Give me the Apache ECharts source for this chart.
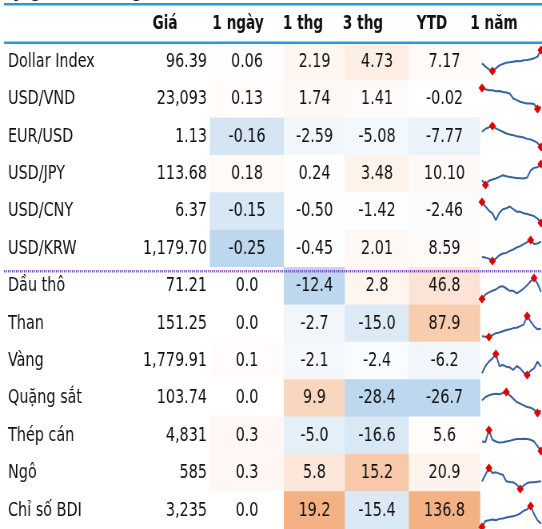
<!DOCTYPE html>
<html>
<head>
<meta charset="utf-8">
<script src="https://cdn.jsdelivr.net/npm/echarts@6/dist/echarts.min.js"></script>
<style>
html, body { margin: 0; padding: 0; background: #fff; overflow: hidden; }
/* the table font is a narrow one: draw wider and squeeze horizontally */
#main { width: 678px; height: 529px; transform: scaleX(0.7994); transform-origin: 0 0; }
</style>
</head>
<body>
<div id="main"></div>
<script>
var names = ['Dollar Index', 'USD/VND', 'EUR/USD', 'USD/JPY', 'USD/CNY', 'USD/KRW',
    'Dầu thô', 'Than', 'Vàng', 'Quặng sắt', 'Thép cán', 'Ngô', 'Chỉ số BDI'];
var prices = [96.39, 23093, 1.13, 113.68, 6.37, 1179.70, 71.21, 151.25, 1779.91, 103.74, 4831, 585, 3235];
var priceDecimals = [2, 0, 2, 2, 2, 2, 2, 2, 2, 2, 0, 0, 0];
var oneDay = [0.06, 0.13, -0.16, 0.18, -0.15, -0.25, 0.0, 0.0, 0.1, 0.0, 0.3, 0.3, 0.0];
var oneMonth = [2.19, 1.74, -2.59, 0.24, -0.50, -0.45, -12.4, -2.7, -2.1, 9.9, -5.0, 5.8, 19.2];
var threeMonth = [4.73, 1.41, -5.08, 3.48, -1.42, 2.01, 2.8, -15.0, -2.4, -28.4, -16.6, 15.2, -15.4];
var ytd = [7.17, -0.02, -7.77, 10.10, -2.46, 8.59, 46.8, 87.9, -6.2, -26.7, 5.6, 20.9, 136.8];
var headers = ['Giá', '1 ngày', '1 thg', '3 thg', 'YTD', '1 năm'];

// 1 năm sparklines (relative levels)
var sparkDollar = [30, 20, 12, 7, 15, 24, 28, 32, 33, 35, 37, 36, 39, 40, 42, 45, 50, 70];
var sparkVnd = [77, 73, 70, 70, 67, 68, 65, 63, 60, 45, 40, 35, 32, 30, 30, 28, 13, 20];
var sparkEur = [65, 74, 78, 82, 75, 70, 65, 60, 57, 55, 52, 50, 48, 44, 42, 38, 32, 20];
var sparkJpy = [30, 15, 28, 32, 35, 40, 45, 42, 40, 38, 37, 36, 35, 38, 60, 68, 70, 80];
var sparkCny = [73, 60, 48, 40, 20, 42, 52, 55, 60, 52, 45, 45, 40, 38, 35, 32, 25, 12];
var sparkKrw = [30, 28, 25, 18, 25, 35, 40, 42, 48, 52, 58, 62, 68, 74, 80, 68, 70, 75];
var sparkOil = [13, 27, 33, 38, 42, 50, 52, 45, 38, 38, 30, 37, 45, 55, 67, 77, 60, 35];
var sparkCoal = [13, 12, 11, 17, 23, 25, 29, 33, 35, 39, 40, 45, 50, 77, 60, 45, 35, 37];
var sparkGold = [20, 42, 55, 65, 78, 42, 45, 40, 38, 30, 42, 35, 22, 15, 28, 35, 55, 40];
var sparkOre = [50, 60, 65, 68, 70, 68, 72, 75, 65, 55, 45, 40, 35, 30, 28, 22, 12, 20];
var sparkSteel = [45, 44, 78, 50, 45, 42, 43, 45, 47, 50, 52, 52, 53, 52, 50, 45, 32, 18];
var sparkCorn = [35, 55, 75, 60, 62, 58, 55, 35, 33, 32, 25, 12, 22, 30, 32, 32, 34, 35];
var sparkBdi = [20, 38, 40, 42, 40, 44, 45, 48, 50, 52, 55, 60, 68, 72, 82, 58, 40, 30];
var sparks = [sparkDollar, sparkVnd, sparkEur, sparkJpy, sparkCny, sparkKrw,
    sparkOil, sparkCoal, sparkGold, sparkOre, sparkSteel, sparkCorn, sparkBdi];

var FONT = "'DejaVu Sans Condensed', 'DejaVu Sans', sans-serif";
var SX = 542 / 678;           // horizontal squeeze applied by css
function X(px) { return px / SX; }   // screen px -> chart px

var ROW_TOP = 43, ROW_H = 38, N = names.length;
var colLeft = [210, 284, 345, 409, 480];
// colour scale ends for each change column (blue end, orange end)
var colorRange = [[-0.25, 3], [-12.4, 19.2], [-28.4, 22], [-26.7, 136.8]];
var headerX = [165, 238, 303, 363, 432, 494];

var changeCols = [oneDay, oneMonth, threeMonth, ytd];

function fmtChange(v, i) {
    return v.toFixed(i < 6 ? 2 : 1);
}
function fmtPrice(v, i) {
    return v.toLocaleString('en-US', {minimumFractionDigits: priceDecimals[i], maximumFractionDigits: priceDecimals[i]});
}
function norm(v, r) {
    return v < 0 ? -Math.min(1, v / r[0]) : Math.min(1, v / r[1]);
}

var grids = [], xAxes = [], yAxes = [], series = [];

// names + prices
grids.push({left: 0, top: ROW_TOP, width: X(207), height: ROW_H * N});
xAxes.push({gridIndex: 0, type: 'category', data: [''], show: false});
yAxes.push({
    gridIndex: 0, type: 'category', inverse: true, position: 'left', data: names,
    axisLine: {show: false}, axisTick: {show: false}, splitLine: {show: false},
    axisLabel: {inside: true, margin: X(8), align: 'left', fontSize: 20, color: '#111', fontFamily: FONT}
});
yAxes.push({
    gridIndex: 0, type: 'category', inverse: true, position: 'right',
    data: prices.map(fmtPrice),
    axisLine: {show: false}, axisTick: {show: false}, splitLine: {show: false},
    axisLabel: {inside: true, margin: 0, align: 'right', fontSize: 20, color: '#111', fontFamily: FONT}
});
series.push({
    type: 'scatter', xAxisIndex: 0, yAxisIndex: 0, symbolSize: 0, silent: true,
    data: names.map(function (n, i) { return [0, i]; })
});

// heat-coloured change columns
changeCols.forEach(function (vals, c) {
    var g = grids.length;
    grids.push({left: X(colLeft[c]), top: ROW_TOP, width: X(colLeft[c + 1] - colLeft[c]), height: ROW_H * N});
    xAxes.push({gridIndex: g, type: 'category', data: [''], show: false});
    yAxes.push({gridIndex: g, type: 'category', inverse: true, show: false,
        data: names.map(function (n, i) { return i; })});
    series.push({
        type: 'heatmap', xAxisIndex: g, yAxisIndex: yAxes.length - 1,
        data: vals.map(function (v, i) { return [0, i, norm(v, colorRange[c])]; }),
        label: {
            show: true, fontSize: 20, color: '#111', fontFamily: FONT,
            formatter: function (p) { return fmtChange(vals[p.data[1]], p.data[1]); }
        },
        emphasis: {disabled: true}
    });
});

// sparklines
sparks.forEach(function (s, i) {
    var g = grids.length;
    grids.push({left: X(482), width: X(59), top: ROW_TOP + i * ROW_H + 7, height: 21});
    xAxes.push({gridIndex: g, type: 'category', boundaryGap: false, show: false,
        data: s.map(function (v, k) { return k; })});
    yAxes.push({gridIndex: g, type: 'value', show: false, min: 'dataMin', max: 'dataMax', scale: true});
    series.push({
        type: 'line', xAxisIndex: g, yAxisIndex: yAxes.length - 1, data: s,
        symbol: 'none', silent: true,
        lineStyle: {color: '#3563A0', width: 2},
        markPoint: {
            symbol: 'diamond', symbolSize: [X(7), 9], silent: true,
            itemStyle: {color: '#E00000'}, label: {show: false},
            data: [{type: 'max'}, {type: 'min'}]
        }
    });
});

var graphics = [
    {type: 'text', left: X(1), top: -22, z: 10,
        style: {text: 'Tỷ giá và hàng hóa', font: 'bold 24px ' + FONT, fill: '#111'}},
    {type: 'rect', shape: {x: X(4), y: 3, width: X(540), height: 2.5}, style: {fill: '#2799DE'}, z: 10},
    {type: 'rect', shape: {x: X(4), y: 41.5, width: X(540), height: 2.5}, style: {fill: '#2799DE'}, z: 10},
    {type: 'line', shape: {x1: X(4), y1: 271.2, x2: X(542), y2: 271.2},
        style: {stroke: '#7A35C0', lineWidth: 2.6, lineDash: [X(1), X(1)]}, z: 10}
];
headers.forEach(function (h, k) {
    graphics.push({type: 'text', x: X(headerX[k]), y: 24, z: 10,
        style: {text: h, font: 'bold 19px ' + FONT, fill: '#111', align: 'center', verticalAlign: 'middle'}});
});

var myChart = echarts.init(document.getElementById('main'));
var option = {
    animation: false,
    backgroundColor: '#fff',
    grid: grids,
    xAxis: xAxes,
    yAxis: yAxes,
    visualMap: {
        show: false, type: 'continuous', min: -1, max: 1, dimension: 2,
        seriesIndex: [1, 2, 3, 4],
        inRange: {color: ['#BDD7EE', '#FFFFFF', '#F4B183']}
    },
    graphic: graphics,
    series: series
};
myChart.setOption(option);
</script>
</body>
</html>
